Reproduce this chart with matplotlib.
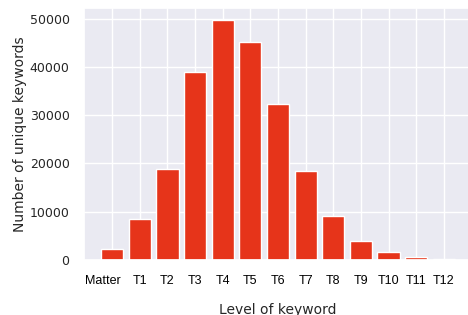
import matplotlib
matplotlib.use("Agg")
import matplotlib.pyplot as plt
import matplotlib.transforms as mtransforms
import seaborn as sns

# data
levels = ["Matter", "T1", "T2", "T3", "T4", "T5", "T6",
          "T7", "T8", "T9", "T10", "T11", "T12"]
counts = [2300, 8500, 18900, 39000, 49800, 45200, 32300,
          18500, 9100, 4000, 1750, 600, 120]

sns.set_theme(style="darkgrid")
plt.rcParams["font.family"] = ["DejaVu Sans"]

fig = plt.figure(figsize=(4.68, 3.15), dpi=100)
# axes runs past the right edge, as in the reference crop
ax = fig.add_axes([83.5 / 468, 55 / 315, 389 / 468, 252.3 / 315])

ax.bar(range(len(levels)), counts, width=0.8, color="#e6341a",
       edgecolor="white", linewidth=1)

ax.set_xticks(range(len(levels)))
ax.set_xticklabels(levels, fontfamily="Liberation Sans", fontsize=9, color="black")
ax.tick_params(axis="y", labelsize=9, pad=4)
ax.tick_params(axis="x", pad=5)

# first label sits a little left of its bar in the reference
first = ax.get_xticklabels()[0]
first.set_transform(first.get_transform() +
                    mtransforms.ScaledTranslation(-9.5 / 100, 0, fig.dpi_scale_trans))

ax.set_xlabel("Level of keyword", fontsize=10, labelpad=11)
ax.set_ylabel("Number of unique keywords", fontsize=10, labelpad=2)

fig.savefig("out.png", dpi=100)
